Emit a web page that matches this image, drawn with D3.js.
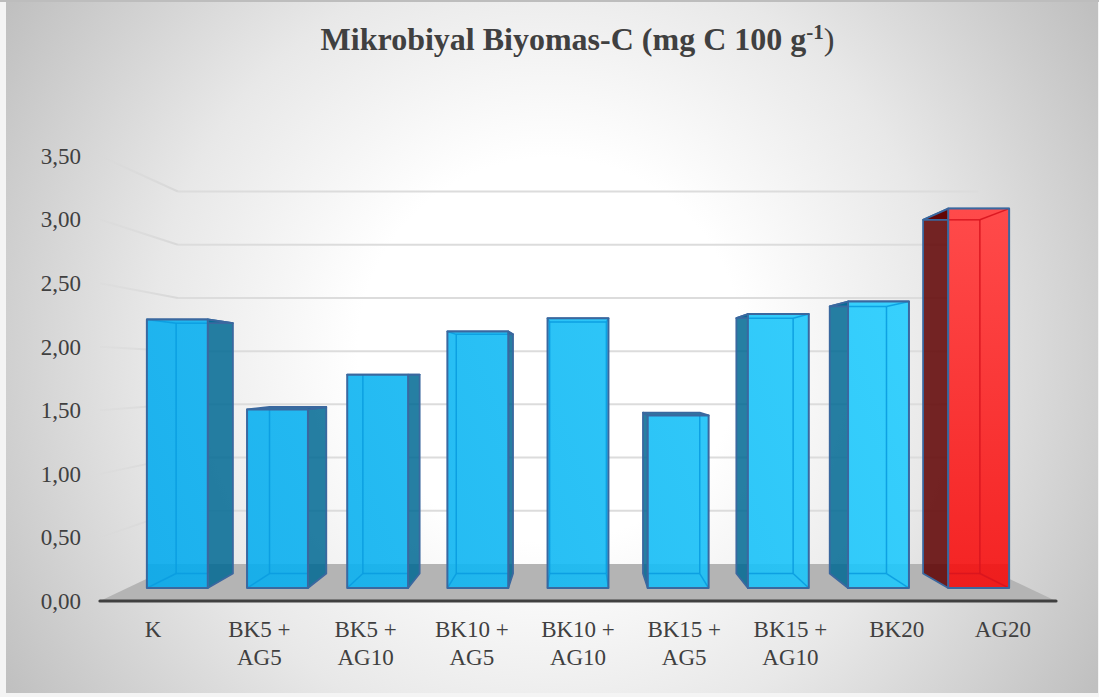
<!DOCTYPE html>
<html><head><meta charset="utf-8">
<script src="https://cdn.jsdelivr.net/npm/d3@7"></script>
<style>html,body{margin:0;padding:0;background:#fff;overflow:hidden}svg{display:block}text{font-family:"Liberation Serif",serif}</style>
</head><body><svg id="c" width="1099" height="697"></svg>
<script>
const categories = ["K","BK5 + AG5","BK5 + AG10","BK10 + AG5","BK10 + AG10","BK15 + AG5","BK15 + AG10","BK20","AG20"];
const values = [2.24,1.49,1.78,2.14,2.25,1.44,2.285,2.39,3.165];
const yTicks = [0,0.5,1,1.5,2,2.5,3,3.5];
const highlighted = "AG20";
const titleText = "Mikrobiyal Biyomas-C (mg C 100 g";

const svg = d3.select("#c"), W = 1099, H = 697;
const defs = svg.append("defs");

// front plane scales
const x = d3.scaleBand().domain(categories).range([100,1056]).paddingInner(0.392).paddingOuter(0.196);
const y = d3.scaleLinear().domain([0,3.5]).range([601,156]);

// perspective: vanishing point and depth scale
const vp = [578,374];
const proj = (X,Y,s) => [vp[0]+(X-vp[0])*s, vp[1]+(Y-vp[1])*s];
const S_BACK = 0.837, S_BF = 0.943, S_BB = 0.879;
const poly = pts => pts.map(p=>p.join(",")).join(" ");

// background
const bg = defs.append("radialGradient").attr("id","bg").attr("gradientUnits","userSpaceOnUse")
  .attr("cx",550).attr("cy",350).attr("r",640);
[[0,"#ffffff"],[0.3,"#ffffff"],[0.62,"#e8e8e8"],[1,"#c0c0c0"]].forEach(d=>bg.append("stop").attr("offset",d[0]).attr("stop-color",d[1]));
svg.append("rect").attr("width",W).attr("height",H).attr("fill","#f4f4f4");
svg.append("rect").attr("x",6).attr("y",2).attr("width",1092).attr("height",691).attr("fill","url(#bg)");
svg.append("rect").attr("x",0).attr("y",0).attr("width",W).attr("height",2).attr("fill","#bdbdbd");

// back wall and side wall gridlines
const [xL,xR] = x.range();
const fadeL = defs.append("linearGradient").attr("id","fadeL").attr("gradientUnits","userSpaceOnUse").attr("x1",100).attr("x2",178).attr("y1",0).attr("y2",0);
fadeL.append("stop").attr("offset",0).attr("stop-color","#d8d8d8").attr("stop-opacity",0.3);
fadeL.append("stop").attr("offset",1).attr("stop-color","#d8d8d8").attr("stop-opacity",1);
yTicks.filter(t=>t>0).forEach(t=>{
  const a = proj(xL,y(t),1), b = proj(xL,y(t),S_BACK), c = proj(xR,y(t),S_BACK);
  svg.append("line").attr("x1",a[0]).attr("y1",a[1]).attr("x2",b[0]).attr("y2",b[1]).attr("stroke","url(#fadeL)").attr("stroke-width",2);
  svg.append("line").attr("x1",b[0]).attr("y1",b[1]).attr("x2",c[0]).attr("y2",c[1]).attr("stroke","#dcdcdc").attr("stroke-width",2);
});

// floor
svg.append("polygon").attr("points",poly([proj(xL,y(0),1),proj(xL,y(0),S_BACK),proj(xR,y(0),S_BACK),proj(xR,y(0),1)])).attr("fill","#b4b4b4");

// bars
const blueF = defs.append("linearGradient").attr("id","blueF").attr("gradientUnits","userSpaceOnUse")
  .attr("x1",100).attr("y1",620).attr("x2",1000).attr("y2",250);
blueF.append("stop").attr("offset",0).attr("stop-color","#06a7ea");
blueF.append("stop").attr("offset",1).attr("stop-color","#2ad1ff");
const redF = defs.append("linearGradient").attr("id","redF").attr("x1",0).attr("y1",1).attr("x2",0).attr("y2",0);
redF.append("stop").attr("offset",0).attr("stop-color","#f31010");
redF.append("stop").attr("offset",1).attr("stop-color","#ff3b3b");

const bars = svg.append("g").selectAll("g").data(categories.map((c,i)=>({c,v:values[i]}))).join("g");
bars.each(function(d){
  const g = d3.select(this), red = d.c===highlighted;
  const x0 = x(d.c), x1 = x0+x.bandwidth(), yb = y(0), yt = y(d.v);
  const F = (X,Y)=>proj(X,Y,S_BF), B = (X,Y)=>proj(X,Y,S_BB);
  const fbl=F(x0,yb), fbr=F(x1,yb), ftl=F(x0,yt), ftr=F(x1,yt);
  const bbl=B(x0,yb), bbr=B(x1,yb), btl=B(x0,yt), btr=B(x1,yt);
  const edge = "#3a689f", inner = red ? "#d8141e" : "#0a9ce0";
  const sideFill = red ? "#5e0000" : "#006993";

  // visible side wall
  const leftSide = bbl[0] < fbl[0], rightSide = bbr[0] > fbr[0];
  const sidePts = leftSide ? [fbl,bbl,btl,ftl] : rightSide ? [fbr,bbr,btr,ftr] : null;
  if (sidePts) g.append("polygon").attr("points",poly(sidePts)).attr("fill",sideFill).attr("fill-opacity",0.85)
      .attr("stroke",edge).attr("stroke-width",1.8).attr("stroke-linejoin","round");
  // top surface
  g.append("polygon").attr("points",poly([ftl,ftr,btr,btl])).attr("fill",sideFill).attr("fill-opacity",0.85)
      .attr("stroke",edge).attr("stroke-width",1.8).attr("stroke-linejoin","round");

  // front face
  g.append("polygon").attr("points",poly([fbl,fbr,ftr,ftl])).attr("fill","#ffffff");
  g.append("polygon").attr("points",poly(yt<vp[1]?[[fbl[0],proj(x0,yb,S_BACK)[1]],[fbr[0],proj(x0,yb,S_BACK)[1]],ftr,ftl]:[[fbl[0],proj(x0,yb,S_BACK)[1]],[fbr[0],proj(x0,yb,S_BACK)[1]],ftr,ftl])).attr("fill","#ffffff");
  g.append("polygon").attr("points",poly([fbl,fbr,[fbr[0],proj(x0,yb,S_BACK)[1]],[fbl[0],proj(x0,yb,S_BACK)[1]]])).attr("fill","#b4b4b4");
  g.append("polygon").attr("points",poly([fbl,fbr,ftr,ftl])).attr("fill",red?"url(#redF)":"url(#blueF)").attr("fill-opacity",0.92);

  // back edges seen through the front
  const l = (a,b)=>g.append("line").attr("x1",a[0]).attr("y1",a[1]).attr("x2",b[0]).attr("y2",b[1]).attr("stroke",inner).attr("stroke-width",1.5).attr("stroke-opacity",0.9);
  const cl = (p)=>[Math.max(fbl[0],Math.min(fbr[0],p[0])),Math.max(ftl[1],Math.min(fbl[1],p[1]))];
  const a=cl(bbl), b=cl(bbr), c=cl(btl), e=cl(btr);
  if (a[0]>fbl[0]) l(a,c);
  if (b[0]<fbr[0]) l(b,e);
  l(a,b);
  if (c[1]>ftl[1]) { l(c,e); }
  l(fbl,a); l(fbr,b);
  if (c[1]>ftl[1]) { l(ftl,c); l(ftr,e); }

  // front outline
  g.append("polygon").attr("points",poly([fbl,fbr,ftr,ftl])).attr("fill","none").attr("stroke",edge).attr("stroke-width",2).attr("stroke-linejoin","round");
});

// category axis line
svg.append("line").attr("x1",xL).attr("x2",xR).attr("y1",y(0)).attr("y2",y(0))
  .attr("stroke","#404040").attr("stroke-width",3.2).attr("stroke-linecap","round");

// value axis
const axY = svg.append("g").attr("transform","translate(81,0)").call(d3.axisLeft(y).tickValues(yTicks).tickSize(0).tickPadding(0).tickFormat(d=>d3.format(".2f")(d).replace(".",",")));
axY.select(".domain").remove();
axY.selectAll("text").attr("fill","#404040").attr("font-size",23).style("font-family",'"Liberation Serif",serif');

// category axis labels
const axX = svg.append("g").attr("transform","translate(0,601)").call(d3.axisBottom(x).tickSize(0).tickPadding(0));
axX.select(".domain").remove();
axX.selectAll("text").each(function(d){
  const t = d3.select(this).text(null).attr("fill","#404040").attr("font-size",23).attr("y",0).attr("dy",null).style("font-family",'"Liberation Serif",serif');
  const parts = d.includes(" + ") ? [d.split(" + ")[0]+" +", d.split(" + ")[1]] : [d];
  parts.forEach((p,i)=>t.append("tspan").attr("x",0).attr("y",36+i*28).text(p));
});

// title
const title = svg.append("text").attr("x",577.5).attr("y",50).attr("text-anchor","middle").attr("fill","#404040").attr("font-size",32);
title.append("tspan").attr("font-weight","bold").text(titleText);
title.append("tspan").attr("font-weight","bold").attr("font-size",21).attr("dy",-11).text("-1");
title.append("tspan").attr("font-size",32).attr("dy",11).text(")");
</script></body></html>
